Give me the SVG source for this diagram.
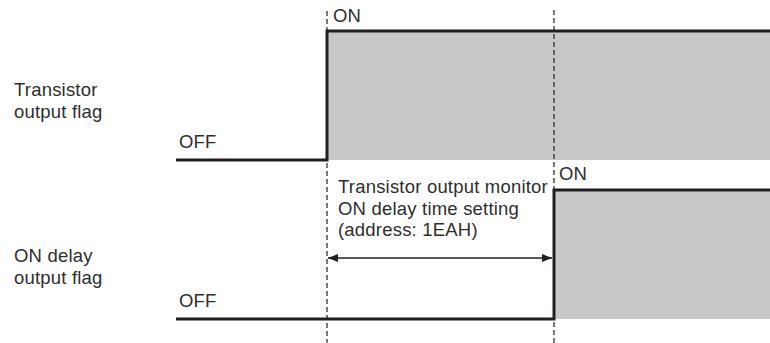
<svg xmlns="http://www.w3.org/2000/svg" width="770" height="343" viewBox="0 0 770 343">
<defs>
<style>
text{font-family:"Liberation Sans",Arial,sans-serif;font-size:18.5px;letter-spacing:0.2px;fill:#2e2e2e}
.sig{fill:none;stroke:#231f20;stroke-width:3}
.fill{fill:#c8c8ca}
.dash{stroke:#231f20;stroke-width:1.2;stroke-dasharray:5 3;fill:none}
.dim{stroke:#231f20;stroke-width:1.3;fill:none}
</style>
<marker id="ah" viewBox="0 0 10 8" refX="10" refY="4" markerWidth="10" markerHeight="8" markerUnits="userSpaceOnUse" orient="auto-start-reverse">
<path d="M0,0 L10,4 L0,8 Z" fill="#231f20"/>
</marker>
</defs>
<rect width="770" height="343" fill="#fff"/>
<g id="transistor-output-flag">
<rect class="fill" x="327" y="31" width="443" height="129"/>
<path class="sig" d="M176,160 H327 V31 H770"/>
<text x="14" y="96">Transistor</text>
<text x="14" y="118">output flag</text>
<text x="179" y="148">OFF</text>
<text x="333" y="21.5">ON</text>
</g>
<g id="on-delay-output-flag">
<rect class="fill" x="554" y="190" width="216" height="129"/>
<path class="sig" d="M176,319 H554 V190 H770"/>
<text x="14" y="262">ON delay</text>
<text x="14" y="284">output flag</text>
<text x="179" y="307">OFF</text>
<text x="559" y="180">ON</text>
</g>
<g id="connectors">
<line class="dash" x1="327" y1="11" x2="327" y2="343"/>
<line class="dash" x1="554" y1="10" x2="554" y2="343"/>
<line class="dim" x1="328" y1="258" x2="552" y2="258" marker-start="url(#ah)" marker-end="url(#ah)"/>
</g>
<g id="delay-label">
<text x="338" y="192.5">Transistor output monitor</text>
<text x="338" y="214.5">ON delay time setting</text>
<text x="338" y="236">(address: 1EAH)</text>
</g>
</svg>
